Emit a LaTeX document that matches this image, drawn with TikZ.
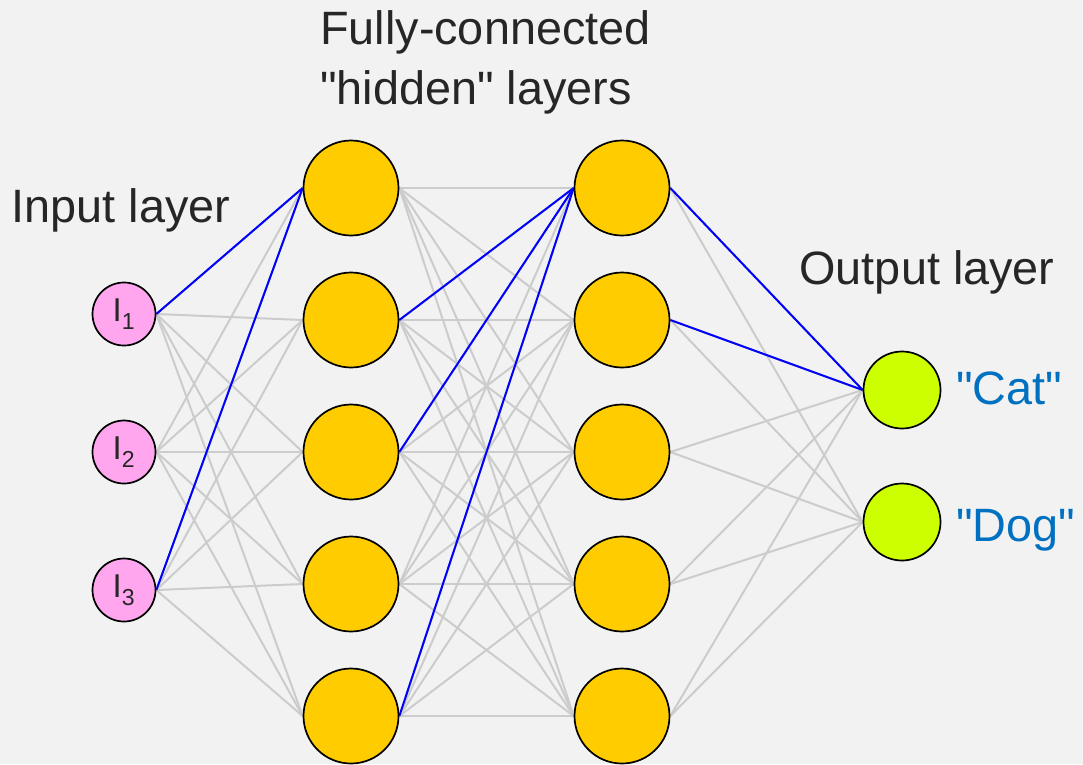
\documentclass[tikz,border=0pt]{standalone}
\usepackage{fontspec}
\setmainfont{Liberation Sans}
\usepackage{tikz}
\definecolor{netbg}{RGB}{242,242,242}
\definecolor{netpink}{RGB}{255,166,238}
\definecolor{netgold}{RGB}{255,204,0}
\definecolor{netlime}{RGB}{204,255,0}
\definecolor{netgray}{RGB}{204,204,204}
\definecolor{netblue}{RGB}{0,0,255}
\definecolor{nettext}{RGB}{38,38,38}
\definecolor{netlabel}{RGB}{0,112,192}
\pgfdeclarelayer{bg}
\pgfsetlayers{bg,main}

\tikzset{
    neuron/.style={circle, draw=black, line width=1.7pt, inner sep=0pt},
    inneuron/.style={neuron, fill=netpink, minimum size=63pt, text=nettext, font=\fontsize{33}{35}\selectfont},
    hidneuron/.style={neuron, fill=netgold, minimum size=95pt},
    outneuron/.style={neuron, fill=netlime, minimum size=77pt},
    weight/.style={netgray, line width=2pt},
    active/.style={netblue, line width=2pt},
    layerlabel/.style={text=nettext, inner sep=0pt, font=\fontsize{46.8}{60}\selectfont},
    classlabel/.style={layerlabel, text=netlabel}
}

\begin{document}
\begin{tikzpicture}[x=1pt, y=-1pt]
    \useasboundingbox (0,0) rectangle (1083,764);

    % Input layer
    \foreach \y [count=\i] in {314,452,590}
        \node[inneuron] (in\i) at (124,\y) {I\textsubscript{\i}};

    % Hidden layers
    \foreach \y [count=\i] in {188,320,452,584,716} {
        \node[hidneuron] (ha\i) at (351,\y) {};
        \node[hidneuron] (hb\i) at (622,\y) {};
    }

    % Output layer
    \node[outneuron] (out1) at (902,390) {};
    \node[outneuron] (out2) at (902,522) {};

    % Weights, behind the neurons
    \begin{pgfonlayer}{bg}
        \fill[netbg] (0,0) rectangle (1083,764);
        \foreach \i in {1,2,3}
            \foreach \j in {1,...,5}
                \draw[weight] (in\i.east) -- (ha\j.west);
        \foreach \i in {1,...,5}
            \foreach \j in {1,...,5}
                \draw[weight] (ha\i.east) -- (hb\j.west);
        \foreach \i in {1,...,5}
            \foreach \j in {1,2}
                \draw[weight] (hb\i.east) -- (out\j.west);

        % Highlighted path
        \draw[active] (in1.east) -- (ha1.west);
        \draw[active] (in3.east) -- (ha1.west);
        \draw[active] (ha2.east) -- (hb1.west);
        \draw[active] (ha3.east) -- (hb1.west);
        \draw[active] (ha5.east) -- (hb1.west);
        \draw[active] (hb1.east) -- (out1.west);
        \draw[active] (hb2.east) -- (out1.west);
    \end{pgfonlayer}

    % Layer titles
    \node[layerlabel, anchor=base] (inlabel) at (121,222) {Input layer};
    \node[layerlabel, anchor=north west, align=left] (hidlabel) at (320,10) {Fully-connected\\\textquotedbl hidden\textquotedbl{} layers};
    \node[layerlabel, anchor=base] (outlabel) at (927,284) {Output layer};

    % Classes
    \node[classlabel, anchor=base west] (catlabel) at (956,404) {\textquotedbl Cat\textquotedbl};
    \node[classlabel, anchor=base west] (doglabel) at (956,541) {\textquotedbl Dog\textquotedbl};
\end{tikzpicture}
\end{document}
